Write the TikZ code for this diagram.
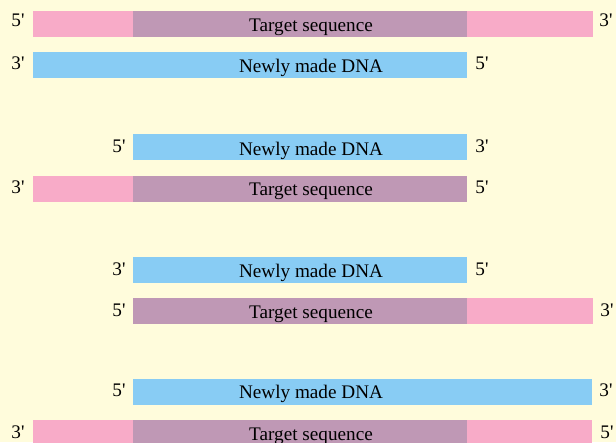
\documentclass[tikz,border=0pt]{standalone}
\usepackage{fontspec}
\setmainfont{Liberation Serif}
\definecolor{bgc}{RGB}{255,252,220}
\definecolor{pinkc}{RGB}{248,171,200}
\definecolor{mauvec}{RGB}{191,152,181}
\definecolor{bluec}{RGB}{136,204,244}
\newcommand\pr[1]{#1\textquotesingle}
\begin{document}
\begin{tikzpicture}[x=0.75pt,y=-0.75pt,
  bar/.style={inner sep=0pt,minimum height=19.5pt},
  bartext/.style={inner sep=0pt,anchor=base,font=\fontsize{14.4}{17}\selectfont,text=black},
  endlab/.style={inner sep=0pt,anchor=base,font=\fontsize{14.4}{17}\selectfont}]
\fill[bgc] (0,0) rectangle (616,442);
\useasboundingbox (0,0) rectangle (616,442);
% seg: name, color, x1, x2, ycenter
\newcommand\seg[5]{\node[bar,fill=#2,minimum width={(#4-#3)*0.75pt}] (#1) at ({(#3+#4)/2},#5) {};}
% Row 1 (bar 11-37)
\seg{p1}{pinkc}{33}{593}{24}
\seg{m1}{mauvec}{133}{467}{24}
\node[bartext] (t1) at (311,31.5) {Target sequence};
\node[endlab] (l1) at (18,27) {\pr{5}};
\node[endlab] (r1) at (606,27) {\pr{3}};
% Row 2 (bar 52-78)
\seg{b2}{bluec}{33}{467}{65}
\node[bartext] (t2) at (311,72.5) {Newly made DNA};
\node[endlab] (l2) at (18,70) {\pr{3}};
\node[endlab] (r2) at (482,70) {\pr{5}};
% Row 3 (bar 134-160)
\seg{b3}{bluec}{133}{467}{147}
\node[bartext] (t3) at (311,155) {Newly made DNA};
\node[endlab] (l3) at (119,152) {\pr{5}};
\node[endlab] (r3) at (482,152) {\pr{3}};
% Row 4 (bar 176-201)
\seg{p4}{pinkc}{33}{467}{188.5}
\seg{m4}{mauvec}{133}{467}{188.5}
\node[bartext] (t4) at (311,195.5) {Target sequence};
\node[endlab] (l4) at (18,193) {\pr{3}};
\node[endlab] (r4) at (482,193) {\pr{5}};
% Row 5 (bar 257-283)
\seg{b5}{bluec}{133}{467}{270}
\node[bartext] (t5) at (311,277.5) {Newly made DNA};
\node[endlab] (l5) at (119,275) {\pr{3}};
\node[endlab] (r5) at (482,275) {\pr{5}};
% Row 6 (bar 298-324)
\seg{p6}{pinkc}{133}{593}{311}
\seg{m6}{mauvec}{133}{467}{311}
\node[bartext] (t6) at (311,318.5) {Target sequence};
\node[endlab] (l6) at (119,316) {\pr{5}};
\node[endlab] (r6) at (607,316) {\pr{3}};
% Row 7 (bar 379-404)
\seg{b7}{bluec}{133}{592}{391.5}
\node[bartext] (t7) at (311,398.5) {Newly made DNA};
\node[endlab] (l7) at (119,396) {\pr{5}};
\node[endlab] (r7) at (606,396) {\pr{3}};
% Row 8 (bar 420-446)
\seg{p8}{pinkc}{33}{592}{433}
\seg{m8}{mauvec}{133}{467}{433}
\node[bartext] (t8) at (311,440) {Target sequence};
\node[endlab] (l8) at (18,438) {\pr{3}};
\node[endlab] (r8) at (607,438) {\pr{5}};
\end{tikzpicture}
\end{document}
